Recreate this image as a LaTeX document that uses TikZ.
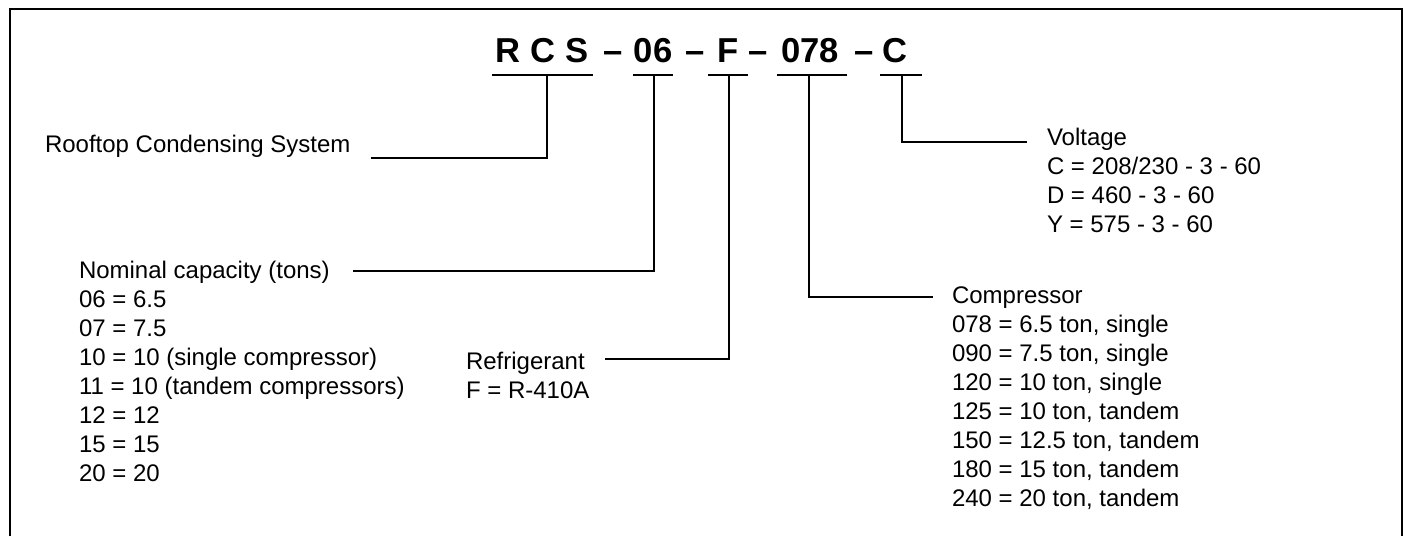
\documentclass[tikz,border=0pt]{standalone}
\usepackage{fontspec}
\setmainfont{Liberation Sans}
\usetikzlibrary{positioning}

\begin{document}
\begin{tikzpicture}[
    x=0.5pt, y=-0.5pt, line width=1pt,
    code/.style={font=\fontsize{17.3}{20}\selectfont\bfseries, inner sep=0pt, anchor=base},
    info/.style={font=\fontsize{12}{14.5}\selectfont, align=left, inner sep=0pt, anchor=north west},
    frame/.style={line width=1.1pt}
]
    \useasboundingbox (0,0) rectangle (1403,536);
    \draw[frame] (10,536) -- (10,9) -- (1402,9) -- (1402,536);

    \node[code] (rcs) at (542,62) {R C S};
    \node[code] (d1) at (613,62) {\textendash};
    \node[code] (cap06) at (653,62) {06};
    \node[code] (d2) at (695,62) {\textendash};
    \node[code] (refF) at (728,62) {F};
    \node[code] (d3) at (758,62) {\textendash};
    \node[code] (cmp078) at (810,62) {078};
    \node[code] (d4) at (864,62) {\textendash};
    \node[code] (voltC) at (895,62) {C};

    \foreach \a/\b/\m/\n in {492/593/547/rcsU, 633/673/654/capU, 708/748/729/refU, 777/847/809/cmpU, 880/922/902/volU}{
        \draw (\a,75) -- (\b,75);
        \coordinate (\n) at (\m,75);
    }

    \node[info, anchor=base west] (roof) at (44,152) {Rooftop Condensing System};
    \node[info] (capacity) at (78,260) {Nominal capacity (tons)\\06 = 6.5\\07 = 7.5\\10 = 10 (single compressor)\\11 = 10 (tandem compressors)\\12 = 12\\15 = 15\\20 = 20};
    \node[info] (refrig) at (465,351) {Refrigerant\\F = R-410A};
    \node[info] (compr) at (951,286) {Compressor\\078 = 6.5 ton, single\\090 = 7.5 ton, single\\120 = 10 ton, single\\125 = 10 ton, tandem\\150 = 12.5 ton, tandem\\180 = 15 ton, tandem\\240 = 20 ton, tandem};
    \node[info] (volt) at (1046,127) {Voltage\\C = 208/230 - 3 - 60\\D = 460 - 3 - 60\\Y = 575 - 3 - 60};

    \coordinate (roofE) at (371,157.7);
    \coordinate (capE) at (353,271);
    \coordinate (refE) at (605,359);
    \coordinate (cmpE) at (933,297);
    \coordinate (volE) at (1027,142);

    \draw (rcsU) |- (roofE);
    \draw (capU) |- (capE);
    \draw (refU) |- (refE);
    \draw (cmpU) |- (cmpE);
    \draw (volU) |- (volE);
\end{tikzpicture}
\end{document}
